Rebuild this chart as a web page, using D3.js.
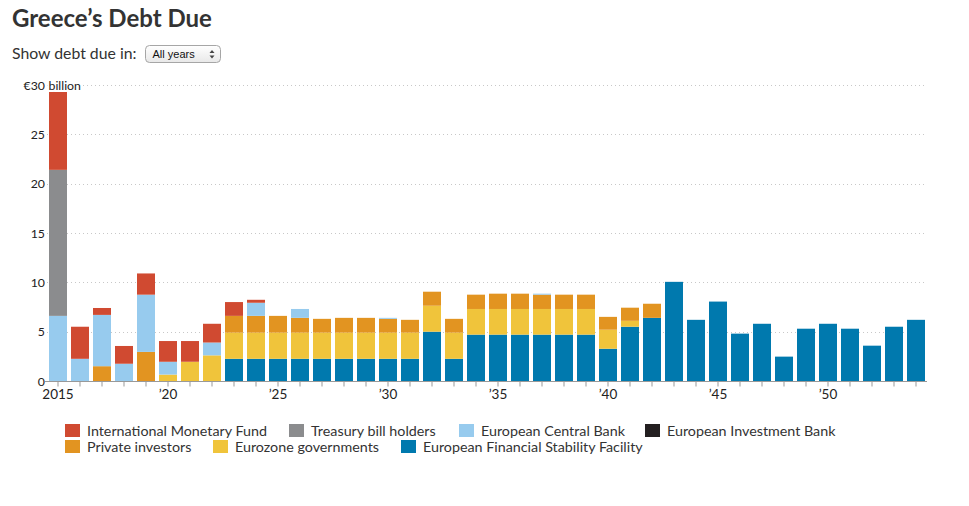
<!DOCTYPE html>
<html>
<head>
<meta charset="utf-8">
<script src="https://cdn.jsdelivr.net/npm/d3@7/dist/d3.min.js"></script>
<style>
  body { margin: 0; background: #fff; }
  svg { display: block; font-family: Lato, "Open Sans", sans-serif; }
</style>
</head>
<body>
<svg id="chart" width="969" height="506"></svg>
<script>
// years 2015 - 2054
var years = [2015, 2016, 2017, 2018, 2019, 2020, 2021, 2022, 2023, 2024,
	2025, 2026, 2027, 2028, 2029, 2030, 2031, 2032, 2033, 2034,
	2035, 2036, 2037, 2038, 2039, 2040, 2041, 2042, 2043, 2044,
	2045, 2046, 2047, 2048, 2049, 2050, 2051, 2052, 2053, 2054];

// € billion due, per holder
var efsf = [0, 0, 0, 0, 0, 0, 0, 0, 2.25, 2.25,
	2.25, 2.25, 2.25, 2.25, 2.25, 2.25, 2.25, 5.0, 2.25, 4.7,
	4.7, 4.7, 4.7, 4.7, 4.7, 3.27, 5.5, 6.4, 10.05, 6.2,
	8.05, 4.8, 5.8, 2.47, 5.3, 5.8, 5.3, 3.58, 5.5, 6.2];
var eurozone = [0, 0, 0, 0, 0, 0.65, 1.95, 2.6, 2.65, 2.65,
	2.65, 2.65, 2.65, 2.65, 2.65, 2.65, 2.65, 2.63, 2.65, 2.6,
	2.6, 2.6, 2.6, 2.6, 2.6, 1.93, 0.6, 0, 0, 0,
	0, 0, 0, 0, 0, 0, 0, 0, 0, 0];
var privateInv = [0, 0, 1.5, 0, 2.95, 0, 0, 0, 1.7, 1.7,
	1.7, 1.5, 1.4, 1.5, 1.5, 1.4, 1.3, 1.42, 1.4, 1.45,
	1.55, 1.55, 1.45, 1.45, 1.45, 1.3, 1.33, 1.43, 0, 0,
	0, 0, 0, 0, 0, 0, 0, 0, 0, 0];
var eib = [0, 0, 0, 0, 0, 0, 0, 0, 0, 0,
	0, 0, 0, 0, 0, 0, 0, 0, 0, 0,
	0, 0, 0, 0, 0, 0, 0, 0, 0, 0,
	0, 0, 0, 0, 0, 0, 0, 0, 0, 0];
var ecb = [6.6, 2.25, 5.2, 1.75, 5.8, 1.3, 0, 1.3, 0, 1.33,
	0, 0.9, 0, 0, 0, 0.1, 0, 0, 0, 0,
	0, 0, 0.1, 0, 0, 0, 0, 0, 0, 0,
	0, 0, 0, 0, 0, 0, 0, 0, 0, 0];
var tbill = [14.8, 0, 0, 0, 0, 0, 0, 0, 0, 0,
	0, 0, 0, 0, 0, 0, 0, 0, 0, 0,
	0, 0, 0, 0, 0, 0, 0, 0, 0, 0,
	0, 0, 0, 0, 0, 0, 0, 0, 0, 0];
var imf = [7.9, 3.25, 0.7, 1.8, 2.15, 2.1, 2.1, 1.9, 1.4, 0.3,
	0, 0, 0, 0, 0, 0, 0, 0, 0, 0,
	0, 0, 0, 0, 0, 0, 0, 0, 0, 0,
	0, 0, 0, 0, 0, 0, 0, 0, 0, 0];

var yTicks = [0, 5, 10, 15, 20, 25, 30];
var xLabelYears = [2015, 2020, 2025, 2030, 2035, 2040, 2045, 2050];

// stack order, bottom to top
var series = [
	{ key: 'efsf', name: 'European Financial Stability Facility', color: '#0079ae', values: efsf },
	{ key: 'eurozone', name: 'Eurozone governments', color: '#f0c43b', values: eurozone },
	{ key: 'private', name: 'Private investors', color: '#e29421', values: privateInv },
	{ key: 'eib', name: 'European Investment Bank', color: '#231f20', values: eib },
	{ key: 'ecb', name: 'European Central Bank', color: '#97cbee', values: ecb },
	{ key: 'tbill', name: 'Treasury bill holders', color: '#8b8c8e', values: tbill },
	{ key: 'imf', name: 'International Monetary Fund', color: '#d04a31', values: imf }
];

// legend layout, in reading order
var legendOrder = [
	[ 'imf', 'tbill', 'ecb', 'eib' ],
	[ 'private', 'eurozone', 'efsf' ]
];
var legendX = [ [ 65, 289, 459, 645 ], [ 65, 213, 401 ] ];

var svg = d3.select( '#chart' );

// title + control
svg.append( 'text' )
	.attr( 'x', 12 ).attr( 'y', 27 )
	.style( 'font-size', '24px' ).style( 'font-weight', 'bold' )
	.style( 'fill', '#333' )
	.text( 'Greece\u2019s Debt Due' );

svg.append( 'text' )
	.attr( 'x', 12 ).attr( 'y', 58.5 )
	.style( 'font-size', '15.8px' ).style( 'fill', '#333' )
	.text( 'Show debt due in:' );

var defs = svg.append( 'defs' );
var grad = defs.append( 'linearGradient' ).attr( 'id', 'selGrad' )
	.attr( 'x1', 0 ).attr( 'y1', 0 ).attr( 'x2', 0 ).attr( 'y2', 1 );
grad.append( 'stop' ).attr( 'offset', '0%' ).attr( 'stop-color', '#ffffff' );
grad.append( 'stop' ).attr( 'offset', '100%' ).attr( 'stop-color', '#e8e8e8' );

var sel = svg.append( 'g' ).attr( 'transform', 'translate(145.5,45.5)' );
sel.append( 'rect' )
	.attr( 'width', 75 ).attr( 'height', 17 ).attr( 'rx', 4 )
	.style( 'fill', 'url(#selGrad)' ).style( 'stroke', '#a6a6a6' );
sel.append( 'text' )
	.attr( 'x', 7 ).attr( 'y', 12.5 )
	.style( 'font-family', '"Liberation Sans", Arial, sans-serif' )
	.style( 'font-size', '11px' ).style( 'fill', '#111' )
	.text( 'All years' );
sel.append( 'path' ).attr( 'd', 'M64,7.5 L69,7.5 L66.5,4.5 Z' ).style( 'fill', '#444' );
sel.append( 'path' ).attr( 'd', 'M64,10 L69,10 L66.5,13 Z' ).style( 'fill', '#444' );

// scales
var x = d3.scaleBand()
	.domain( years )
	.range( [ 47, 927 ] )
	.paddingInner( 4 / 22 )
	.paddingOuter( 2 / 22 );

var y = d3.scaleLinear()
	.domain( [ 0, 30 ] )
	.range( [ 381, 85 ] );

// gridlines
svg.append( 'g' ).selectAll( 'line' )
	.data( yTicks.filter( function( _d ) { return _d > 0; } ) )
	.enter().append( 'line' )
	.attr( 'x1', 47 ).attr( 'x2', 926 )
	.attr( 'y1', function( _d ) { return Math.round( y( _d ) ) + 0.5; } )
	.attr( 'y2', function( _d ) { return Math.round( y( _d ) ) + 0.5; } )
	.style( 'stroke', '#c8c8c8' )
	.style( 'stroke-dasharray', '1,3' );

// stacked bars
var table = years.map( function( _yr, _i ) {
	var row = { year: _yr };
	series.forEach( function( _s ) { row[ _s.key ] = _s.values[ _i ]; } );
	return row;
} );

var stack = d3.stack().keys( series.map( function( _s ) { return _s.key; } ) );
var layers = stack( table );

svg.append( 'g' ).selectAll( 'g' )
	.data( layers )
	.enter().append( 'g' )
	.style( 'fill', function( _d, _i ) { return series[ _i ].color; } )
	.selectAll( 'rect' )
	.data( function( _d ) { return _d; } )
	.enter().append( 'rect' )
	.attr( 'x', function( _d ) { return x( _d.data.year ); } )
	.attr( 'width', x.bandwidth() )
	.attr( 'y', function( _d ) { return y( _d[ 1 ] ); } )
	.attr( 'height', function( _d ) { return Math.max( 0, y( _d[ 0 ] ) - y( _d[ 1 ] ) ); } );

// y labels
svg.append( 'g' ).selectAll( 'text' )
	.data( yTicks )
	.enter().append( 'text' )
	.attr( 'x', 45 )
	.attr( 'y', function( _d ) { return y( _d ) + 4.5; } )
	.style( 'text-anchor', 'end' )
	.style( 'font-size', '12.3px' )
	.style( 'fill', '#222' )
	.text( function( _d ) { return _d === 30 ? '\u20ac30' : _d; } );

svg.append( 'text' )
	.attr( 'x', 48.5 )
	.attr( 'y', y( 30 ) + 4.5 )
	.style( 'font-size', '12.3px' )
	.style( 'fill', '#222' )
	.style( 'stroke', '#fff' ).style( 'stroke-width', 4 )
	.style( 'paint-order', 'stroke' )
	.text( 'billion' );

// x axis
var xAxis = d3.axisBottom( x )
	.tickSize( 5 )
	.tickSizeOuter( 0 )
	.tickFormat( function( _d ) {
		if ( xLabelYears.indexOf( _d ) < 0 ) return '';
		return _d === 2015 ? '2015' : '\u2019' + String( _d ).slice( 2 );
	} );

var gx = svg.append( 'g' )
	.attr( 'transform', 'translate(0,' + ( y( 0 ) + 0.5 ) + ')' )
	.call( xAxis );
gx.select( '.domain' ).attr( 'd', 'M45,0H927' ).style( 'stroke', '#999' );
gx.selectAll( '.tick line' ).style( 'stroke', '#999' );
gx.selectAll( '.tick text' )
	.attr( 'dy', '0.71em' ).attr( 'y', 8 )
	.style( 'font-family', 'Lato, sans-serif' )
	.style( 'font-size', '13.5px' ).style( 'fill', '#222' );

// legend
var byKey = {};
series.forEach( function( _s ) { byKey[ _s.key ] = _s; } );

legendOrder.forEach( function( _row, _r ) {
	_row.forEach( function( _k, _c ) {
		var g = svg.append( 'g' )
			.attr( 'transform', 'translate(' + legendX[ _r ][ _c ] + ',' + ( 424 + _r * 16 ) + ')' );
		g.append( 'rect' ).attr( 'width', 15 ).attr( 'height', 13 )
			.style( 'fill', byKey[ _k ].color );
		g.append( 'text' ).attr( 'x', 22 ).attr( 'y', 11.5 )
			.style( 'font-size', '14.3px' ).style( 'fill', '#333' )
			.text( byKey[ _k ].name );
	} );
} );
</script>
</body>
</html>
